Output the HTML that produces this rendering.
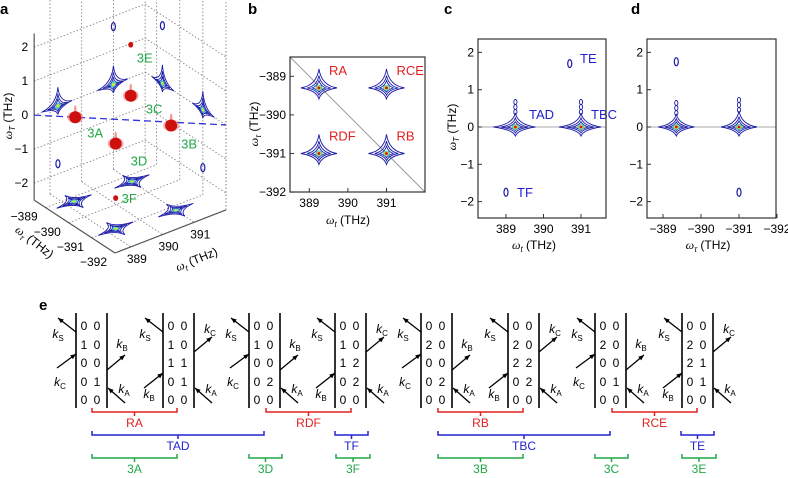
<!DOCTYPE html>
<html><head><meta charset="utf-8"><style>
html,body{margin:0;padding:0;background:#fff;}
svg{display:block;font-family:"Liberation Sans",sans-serif;}
</style></head><body>
<svg id="fig" width="788" height="478" viewBox="0 0 788 478" xmlns="http://www.w3.org/2000/svg">
<g font-weight="bold" font-size="15" fill="#000">
<text x="0" y="14">a</text>
<text x="248" y="14">b</text>
<text x="444" y="14">c</text>
<text x="631" y="14">d</text>
<text x="39" y="310">e</text>
</g>
<g id="pa"></g>
<g id="pb"></g>
<g id="pc"></g>
<g id="pd"></g>
<g id="pe"></g>
</svg>
<script>
// ---- data ----
const bTicksX=[389,390,391];
const bTicksY=[-389,-390,-391,-392];
const bPeakT=[389.25,391,389.25,391];
const bPeakTau=[-389.3,-389.3,-391,-391];
const bPeakLabels=['RA','RCE','RDF','RB'];
const cTicksX=[389,390,391];
const cTicksY=[2,1,0,-1,-2];
const cPeakT=[389.25,391];
const cPeakTT=[0,0];
const cSmallT=[390.7,389];
const cSmallTT=[1.7,-1.75];
const cLabels=['TAD','TBC','TE','TF'];
const dTicksX=[-389,-390,-391,-392];
const dPeakTau=[-389.35,-391];
const dPeakTT=[0,0];
const dSmallTau=[-389.35,-391];
const dSmallTT=[1.75,-1.75];
const aTicksT=[389,390,391];
const aTicksTau=[-389,-390,-391,-392];
const aTicksTT=[2,1,0,-1,-2];
const aRedT=[389.25,391,391,389.25,391,389.25];
const aRedTau=[-389.25,-391,-389.25,-391,-389.25,-391];
const aRedTT=[0,-0.1,0,0,1.5,-1.6];
const aRedSize=[1,1,1,1,0.3,0.3];
const aRedLabels=['3A','3B','3C','3D','3E','3F'];
const aWallLT=[389.25,391];
const aWallRTau=[-389.25,-391];
const aFloorT=[389.25,391,389.25,391];
const aFloorTau=[-389.2,-389.3,-391,-391.2];
const eRows=[['00','10','00','01','00'],['00','10','11','01','00'],['00','10','00','02','00'],['00','10','12','02','00'],
             ['00','20','00','02','00'],['00','20','22','02','00'],['00','20','00','01','00'],['00','20','21','01','00']];
const NS='http://www.w3.org/2000/svg';
function mk(parent,tag,attrs,text){const e=document.createElementNS(NS,tag);for(const k in attrs)e.setAttribute(k,attrs[k]);if(text!==undefined)e.textContent=text;parent.appendChild(e);return e;}
const BLUE='#1c1ca8';
function starPath(L,R,U,D,w){
  return `M${-L},0 Q${-w},${-w} 0,${-U} Q${w},${-w} ${R},0 Q${w},${w} 0,${D} Q${-w},${w} ${-L},0 Z`;
}
function star(g,cx,cy,L,R,U,D,w,name,spike){
  const s=mk(g,'g',{transform:`translate(${cx},${cy})`});
  
  
  [1,0.65,0.38].forEach(k=>mk(s,'path',{d:starPath(L*k,R*k,U*k,D*k,w*(0.5+0.5*k)),fill:'none',stroke:BLUE,'stroke-width':0.9}));
  if(spike){for(let j=1;j<=3;j++)mk(s,'ellipse',{cx:0,cy:-U-j*5+4,rx:1.6,ry:2.5,fill:'none',stroke:BLUE,'stroke-width':0.9});}
  mk(s,'ellipse',{cx:0,cy:0,rx:Math.max(3.5,w*1.2),ry:Math.max(3,w),fill:'#30c8e0'});
  mk(s,'ellipse',{cx:0,cy:0,rx:2.4,ry:2.2,fill:'#e8e020'});
  mk(s,'ellipse',{cx:0,cy:0,rx:1.4,ry:1.4,fill:'#d01010'});
  return s;
}
function oval(g,cx,cy,name){const o=mk(g,'ellipse',{cx:cx,cy:cy,rx:2,ry:4,fill:'none',stroke:BLUE,'stroke-width':1.2});
  }
function omega(g,x,y,sub,rot,name,size){
  const t=mk(g,'text',{x:x,y:y,'font-size':size||12,'text-anchor':'middle',transform:rot?`rotate(${rot} ${x} ${y})`:''});
  
  mk(t,'tspan',{'font-style':'italic','font-family':'Liberation Serif, serif'},'ω');
  mk(t,'tspan',{'font-size':8,dy:3,'font-style':'italic'},sub);
  mk(t,'tspan',{dy:-3},' (THz)');
}
// ---- panel b ----
(function(){
const g=document.getElementById('pb');
const x=v=>290+(v-388.5)*38.6, y=v=>57+(-388.5-v)*38.6;
mk(g,'line',{x1:290,y1:57,x2:425,y2:192,stroke:'#999','stroke-width':1});
bPeakT.forEach((v,i)=>{star(g,x(v),y(bPeakTau[i]),18,18,19,11,2.5,'peak-'+bPeakLabels[i].toLowerCase());
  const t=mk(g,'text',{x:x(v)+10,y:y(bPeakTau[i])-13,fill:'#e02020','font-size':13},bPeakLabels[i]);
  });
mk(g,'rect',{x:290,y:57,width:135,height:135,fill:'none',stroke:'#333','stroke-width':1.2});
bTicksX.forEach(v=>{mk(g,'line',{x1:x(v),y1:192,x2:x(v),y2:188,stroke:'#333'});
  const t=mk(g,'text',{x:x(v),y:207,'font-size':12,'text-anchor':'middle'},v);});
bTicksY.forEach(v=>{mk(g,'line',{x1:290,y1:y(v),x2:294,y2:y(v),stroke:'#333'});
  const t=mk(g,'text',{x:286,y:y(v)+4,'font-size':12,'text-anchor':'end'},'−'+(-v));});
omega(g,348,224,'t',0,'b-x-axis-title');
omega(g,258,124,'τ',-90,'b-y-axis-title');
})();
// ---- panel c ----
(function(){
const g=document.getElementById('pc');
const x=v=>506+(v-389)*37.5, y=v=>127-v*37.3;
mk(g,'line',{x1:478,y1:y(0),x2:606,y2:y(0),stroke:'#aaa'});
cPeakT.forEach((v,i)=>star(g,x(v),y(cPeakTT[i]),22,20,14,9,2.5,'c-peak-'+cLabels[i].toLowerCase(),true));
cSmallT.forEach((v,i)=>oval(g,x(v),y(cSmallTT[i]),'c-small-peak'));
[[529,119],[591,119],[580,63],[517,197]].forEach((p,i)=>{const t=mk(g,'text',{x:p[0],y:p[1],fill:'#2020d0','font-size':13},cLabels[i]);
  });
mk(g,'rect',{x:478,y:39,width:128,height:179,fill:'none',stroke:'#333','stroke-width':1.2});
cTicksX.forEach(v=>{mk(g,'line',{x1:x(v),y1:218,x2:x(v),y2:214,stroke:'#333'});
  const t=mk(g,'text',{x:x(v),y:233,'font-size':12,'text-anchor':'middle'},v);});
cTicksY.forEach(v=>{mk(g,'line',{x1:478,y1:y(v),x2:482,y2:y(v),stroke:'#333'});
  const t=mk(g,'text',{x:474,y:y(v)+4,'font-size':12,'text-anchor':'end'},v<0?'−'+(-v):v);});
omega(g,534,249,'t',0,'c-x-axis-title');
omega(g,456,127,'T',-90,'c-y-axis-title');
})();
// ---- panel d ----
(function(){
const g=document.getElementById('pd');
const x=v=>663+(-389-v)*38, y=v=>127-v*37.3;
mk(g,'line',{x1:647,y1:y(0),x2:776,y2:y(0),stroke:'#aaa'});
dPeakTau.forEach((v,i)=>star(g,x(v),y(dPeakTT[i]),18,18,i?16:13,9,2.5,'d-peak',true));
dSmallTau.forEach((v,i)=>oval(g,x(v),y(dSmallTT[i]),'d-small-peak'));
mk(g,'rect',{x:647,y:39,width:129,height:179,fill:'none',stroke:'#333','stroke-width':1.2});
dTicksX.forEach(v=>{mk(g,'line',{x1:x(v),y1:218,x2:x(v),y2:214,stroke:'#333'});
  const t=mk(g,'text',{x:x(v),y:233,'font-size':12,'text-anchor':'middle'},'−'+(-v));});
cTicksY.forEach(v=>{mk(g,'line',{x1:647,y1:y(v),x2:651,y2:y(v),stroke:'#333'});
  const t=mk(g,'text',{x:643,y:y(v)+4,'font-size':12,'text-anchor':'end'},v<0?'−'+(-v):v);});
omega(g,708,249,'τ',0,'d-x-axis-title');
})();
// ---- panel a ----
(function(){
const g=document.getElementById('pa');
const P=(wt,wtau,wT)=>[115+(wt-388.5)*31.7-(wtau+392)*23.1, 253-(wtau+392)*15.1-(wt-388.5)*12.3-(wT+2.5)*34];
const L=(a,b,attrs)=>mk(g,'line',Object.assign({x1:a[0],y1:a[1],x2:b[0],y2:b[1]},attrs));
const dot={stroke:'#777','stroke-width':0.8,'stroke-dasharray':'1.5 2'};
const top=3.8;
aTicksT.concat([392]).forEach(v=>L(P(v,-388.5,-2.5),P(v,-388.5,top),dot));
aTicksTT.forEach(v=>L(P(388.5,-388.5,v),P(392,-388.5,v),dot));
aTicksTau.forEach(v=>L(P(392,v,-2.5),P(392,v,top),dot));
aTicksTT.forEach(v=>L(P(392,-388.5,v),P(392,-392,v),dot));
aTicksT.forEach(v=>L(P(v,-388.5,-2.5),P(v,-392,-2.5),dot));
aTicksTau.forEach(v=>L(P(388.5,v,-2.5),P(392,v,-2.5),dot));
const solid={stroke:'#555','stroke-width':1.2};
L(P(388.5,-388.5,-2.5),P(388.5,-388.5,2.4),solid);
L(P(388.5,-388.5,-2.5),P(388.5,-392,-2.5),solid);
L(P(388.5,-392,-2.5),P(392,-392,-2.5),solid);
L(P(392,-392,-2.5),P(392,-392,2.2),{stroke:'#777','stroke-width':0.8,'stroke-dasharray':'1.5 2'});
function wallStar(o,e1,e2,name){
  const s=mk(g,'g',{transform:`matrix(${e1[0]} ${e1[1]} ${e2[0]} ${e2[1]} ${o[0]} ${o[1]})`});
  
  [1,0.65,0.38].forEach(k=>mk(s,'path',{d:starPath(0.5*k,0.45*k,0.55*k,0.25*k,0.05*(0.5+0.5*k)),fill:'none',stroke:BLUE,'stroke-width':0.9,'vector-effect':'non-scaling-stroke'}));
  mk(s,'ellipse',{cx:0,cy:0,rx:0.09,ry:0.09,fill:'#30c8e0'});
  mk(s,'ellipse',{cx:0,cy:0,rx:0.05,ry:0.05,fill:'#e8e020'});
}
aWallLT.forEach(v=>wallStar(P(v,-388.5,0),[31.7,-12.3],[0,34],'left-wall-peak'));
aWallRTau.forEach(v=>wallStar(P(392,v,0),[-23.1,-15.1],[0,34],'right-wall-peak'));
aFloorT.forEach((v,i)=>{const o=P(v,aFloorTau[i],-2.5);
  const s=mk(g,'g',{transform:`matrix(31.7 -12.3 23.1 15.1 ${o[0]} ${o[1]})`});
  
  [1,0.65,0.38].forEach(k=>mk(s,'path',{d:starPath(0.55*k,0.55*k,0.4*k,0.4*k,0.05*(0.5+0.5*k)),fill:'none',stroke:BLUE,'stroke-width':0.9,'vector-effect':'non-scaling-stroke'}));
  mk(s,'ellipse',{cx:0,cy:0,rx:0.09,ry:0.09,fill:'#30c8e0'});
  mk(s,'ellipse',{cx:0,cy:0,rx:0.05,ry:0.05,fill:'#e8e020'});});
[[P(391,-388.5,1.7)],[P(392,-389.25,1.7)],[P(389.25,-388.5,-1.7)],[P(392,-391,-1.7)]].forEach(p=>oval(g,p[0][0],p[0][1],'wall-small-peak'));
const a=P(388.5,-388.5,0),b=P(392,-392,0);
const dl=L(a,b,{stroke:'#3333dd','stroke-width':1.3,'stroke-dasharray':'7 4'});

aRedT.forEach((v,i)=>{const p=P(v,aRedTau[i],aRedTT[i]);const s=aRedSize[i];
  const r=mk(g,'g',{});
  if(s>0.5){mk(r,'ellipse',{cx:p[0],cy:p[1],rx:8,ry:6,fill:'#f07070',opacity:0.55});
    mk(r,'ellipse',{cx:p[0],cy:p[1]-8,rx:1.3,ry:4,fill:'#f07070',opacity:0.7});}
  mk(r,'ellipse',{cx:p[0],cy:p[1],rx:5*s+1,ry:4.5*s+1.5,fill:'#cc1010'});
  const off=[[12,20],[10,23],[15,18],[15,22],[6,18],[6,5]][i];
  const t=mk(g,'text',{x:p[0]+off[0],y:p[1]+off[1],fill:'#20a848','font-size':13},aRedLabels[i]);
  });
aTicksTT.forEach(v=>{const p=P(388.5,-388.5,v);const t=mk(g,'text',{x:p[0]-6,y:p[1]+4,'font-size':12,'text-anchor':'end'},v<0?'−'+(-v):v);
  });
aTicksTau.forEach(v=>{const p=P(388.5,v,-2.5);const t=mk(g,'text',{x:p[0]-8,y:p[1]+13,'font-size':12,'text-anchor':'end'},'−'+(-v));
  });
aTicksT.forEach(v=>{const p=P(v,-392,-2.5);const t=mk(g,'text',{x:p[0]+6,y:p[1]+16,'font-size':12,'text-anchor':'middle'},v);
  });
omega(g,12,116,'T',-90,'a-wT-axis-title');
omega(g,32,245,'τ',38,'a-wtau-axis-title');
omega(g,198,263,'t',-22,'a-wt-axis-title');
})();
// ---- panel e ----
(function(){
const g=document.getElementById('pe');
const lefts=[76,163,249,335,421,508,595,682];
function arrow(x1,y1,x2,y2){mk(g,'line',{x1:x1,y1:y1,x2:x2,y2:y2,stroke:'#000','stroke-width':1.3});
  const a=Math.atan2(y2-y1,x2-x1),h=6;
  mk(g,'path',{d:`M${x2},${y2} L${x2-h*Math.cos(a-0.4)},${y2-h*Math.sin(a-0.4)} L${x2-h*Math.cos(a+0.4)},${y2-h*Math.sin(a+0.4)} Z`,fill:'#000'});}
function klabel(x,y,sub){const t=mk(g,'text',{x:x,y:y,'font-size':12,'text-anchor':'middle'});
  
  mk(t,'tspan',{'font-style':'italic'},'k');mk(t,'tspan',{'font-size':8,dy:3},sub);}
const rowY=[330,349,367,386,404];
lefts.forEach((x0,d)=>{
  const dg=mk(g,'g',{});
  const x1=x0+31;
  mk(g,'line',{x1:x0,y1:313,x2:x0,y2:408,stroke:'#000','stroke-width':1.6});
  mk(g,'line',{x1:x1,y1:313,x2:x1,y2:408,stroke:'#000','stroke-width':1.6});
  eRows[d].forEach((r,i)=>{mk(g,'text',{x:x0+8,y:rowY[i],'font-size':12,'text-anchor':'middle'},r[0]);
    mk(g,'text',{x:x0+21,y:rowY[i],'font-size':12,'text-anchor':'middle'},r[1]);});
  arrow(x0,332,x0-18,318); klabel(x0-18,338,'S');
  if(d%2===0){
    arrow(x0-19,368,x0,354); klabel(x0-16,386,'C');
    arrow(x1,370,x1+18,355); klabel(x1+15,348,'B');
    arrow(x1+18,403,x1+1,388); klabel(x1+17,393,'A');
  } else {
    arrow(x0-19,388,x0,373); klabel(x0-14,398,'B');
    arrow(x1,352,x1+18,337); klabel(x1+16,333,'C');
    arrow(x1+18,403,x1+1,388); klabel(x1+17,393,'A');
  }
});
function bracket(xa,xb,y,color,label,name){
  const b=mk(g,'path',{d:`M${xa},${y} L${xa},${y+4} L${xb},${y+4} L${xb},${y} M${(xa+xb)/2},${y+4} L${(xa+xb)/2},${y+8}`,fill:'none',stroke:color,'stroke-width':1.5});
  
  const t=mk(g,'text',{x:(xa+xb)/2,y:y+19,fill:color,'font-size':12,'text-anchor':'middle'},label);
  }
const R='#e02020',Bl='#2424d0',G='#20a848';
[[0,['RA','RDF','TAD','TF','3A','3D','3F']],[346,['RB','RCE','TBC','TE','3B','3C','3E']]].forEach(([o,n])=>{
  bracket(92+o,177+o,408,R,n[0],n[0].toLowerCase());
  bracket(266+o,351+o,408,R,n[1],n[1].toLowerCase());
  bracket(92+o,264+o,431,Bl,n[2],n[2].toLowerCase());
  bracket(335+o,368+o,431,Bl,n[3],n[3].toLowerCase());
  bracket(92+o,177+o,454,G,n[4],n[4].toLowerCase());
  bracket(249+o,282+o,454,G,n[5],n[5].toLowerCase());
  bracket(336+o,370+o,454,G,n[6],n[6].toLowerCase());
});
})();
</script>
</body></html>
